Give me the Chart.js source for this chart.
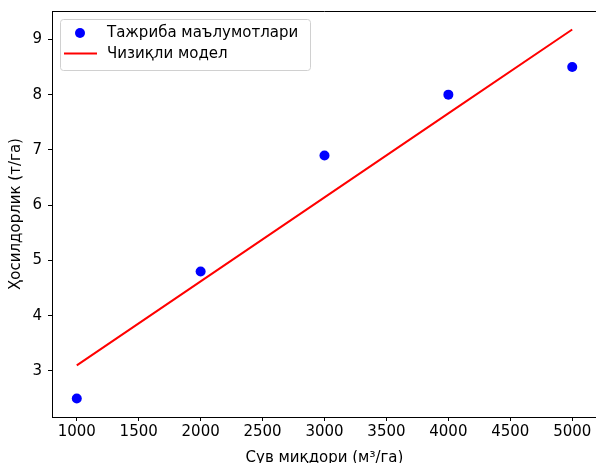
<!DOCTYPE html>
<html>
<head>
<meta charset="utf-8">
<script src="https://cdn.jsdelivr.net/npm/chart.js@4"></script>
<style>
  html, body { margin: 0; padding: 0; background: #fff; overflow: hidden; }
</style>
</head>
<body>
<canvas id="chart" width="600" height="463"></canvas>
<script>
// water amount vs yield
const waterAmount = [1000, 2000, 3000, 4000, 5000];
const yieldData = [2.5, 4.8, 6.9, 8.0, 8.5];
const modelValues = [3.10, 4.62, 6.14, 7.66, 9.18];
const xTicks = [1000, 1500, 2000, 2500, 3000, 3500, 4000, 4500, 5000];
const yTicks = [3, 4, 5, 6, 7, 8, 9];

const seriesNames = ['Тажриба маълумотлари', 'Чизиқли модел'];
const xTitle = 'Сув миқдори (м³/га)';
const yTitle = 'Ҳосилдорлик (т/га)';

const font = { family: 'DejaVu Sans', size: 15 };

// top frame line and legend box like matplotlib
const framePlugin = {
    id: 'frame',
    afterDraw(chart) {
        const { ctx, chartArea: a } = chart;
        ctx.save();
        ctx.strokeStyle = '#000';
        ctx.lineWidth = 1;
        ctx.beginPath();
        ctx.moveTo(a.left, a.top + 0.5);
        ctx.lineTo(a.right, a.top + 0.5);
        ctx.stroke();

        // legend
        const bx = a.left + 8, by = a.top + 8, bw = 250, bh = 51;
        ctx.fillStyle = 'rgba(255,255,255,0.8)';
        ctx.strokeStyle = '#d0d0d0';
        ctx.beginPath();
        ctx.roundRect(bx + 0.5, by + 0.5, bw, bh, 3);
        ctx.fill();
        ctx.stroke();

        const ds = chart.data.datasets;
        ctx.fillStyle = 'blue';
        ctx.beginPath();
        ctx.arc(bx + 20, by + 14, 5, 0, Math.PI * 2);
        ctx.fill();
        ctx.strokeStyle = 'red';
        ctx.lineWidth = 2;
        ctx.beginPath();
        ctx.moveTo(bx + 4, by + 34.5);
        ctx.lineTo(bx + 37, by + 34.5);
        ctx.stroke();

        ctx.fillStyle = '#000';
        ctx.font = '15px "DejaVu Sans"';
        ctx.textBaseline = 'middle';
        ctx.fillText(ds[0].label, bx + 47, by + 14);
        ctx.fillText(ds[1].label, bx + 47, by + 35);
        ctx.restore();
    }
};

new Chart(document.getElementById('chart'), {
    type: 'scatter',
    data: {
        datasets: [
            {
                label: seriesNames[0],
                data: waterAmount.map((x, i) => ({ x: x, y: yieldData[i] })),
                backgroundColor: 'blue',
                borderWidth: 0,
                pointRadius: 5,
                order: 1
            },
            {
                type: 'line',
                label: seriesNames[1],
                data: waterAmount.map((x, i) => ({ x: x, y: modelValues[i] })),
                borderColor: 'red',
                borderWidth: 2,
                pointRadius: 0,
                fill: false,
                tension: 0,
                order: 2
            }
        ]
    },
    options: {
        responsive: false,
        animation: false,
        layout: { autoPadding: false, padding: { top: 11, right: 3, left: 0, bottom: -4 } },
        plugins: {
            legend: { display: false },
            tooltip: { enabled: false }
        },
        scales: {
            x: {
                type: 'linear',
                min: 800,
                max: 5200,
                afterBuildTicks: s => { s.ticks = xTicks.map(v => ({ value: v })); },
                afterFit: s => { s.height = 50; s.paddingLeft = 0; s.paddingRight = 0; },
                ticks: { color: '#000', font: font, padding: 2, maxRotation: 0, callback: v => String(v) },
                grid: { drawOnChartArea: false, drawTicks: true, tickLength: 4, color: '#000' },
                border: { display: true, color: '#000' },
                title: { display: true, text: xTitle, color: '#000', font: font, padding: { top: 0, bottom: 0 } }
            },
            y: {
                type: 'linear',
                min: 2.166,
                max: 9.514,
                afterBuildTicks: s => { s.ticks = yTicks.map(v => ({ value: v })); },
                afterFit: s => { s.width = 52; s.paddingTop = 0; s.paddingBottom = 0; },
                ticks: { color: '#000', font: font, padding: 6, callback: v => String(v) },
                grid: { drawOnChartArea: false, drawTicks: true, tickLength: 4, color: '#000' },
                border: { display: true, color: '#000' },
                title: { display: true, text: yTitle, color: '#000', font: font, padding: { top: 7, bottom: 0 } }
            }
        }
    },
    plugins: [framePlugin]
});
</script>
</body>
</html>
